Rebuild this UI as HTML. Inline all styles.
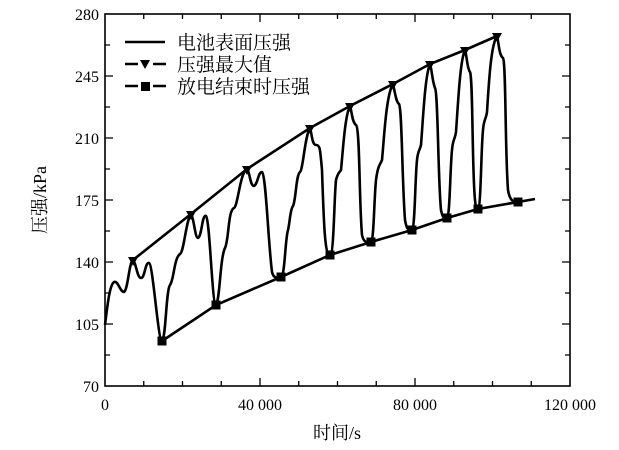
<!DOCTYPE html>
<html><head><meta charset="utf-8"><style>
body{margin:0;background:#fff;}
svg{display:block;font-family:"Liberation Serif","Noto Serif CJK SC",serif;}
</style></head><body>
<svg width="619" height="450" viewBox="0 0 619 450" xmlns="http://www.w3.org/2000/svg">
<rect x="105" y="14" width="465" height="372" fill="none" stroke="#000" stroke-width="1.6"/>
<g stroke="#000" stroke-width="1.3">
<path d="M143.75 386v-5M182.5 386v-5M221.25 386v-5M260 386v-8M298.75 386v-5M337.5 386v-5M376.25 386v-5M415 386v-8M453.75 386v-5M492.5 386v-5M531.25 386v-5
M143.75 14v5M182.5 14v5M221.25 14v5M260 14v8M298.75 14v5M337.5 14v5M376.25 14v5M415 14v8M453.75 14v5M492.5 14v5M531.25 14v5"/>
<path d="M105 355h5M105 324h8M105 293h5M105 262h8M105 231h5M105 200h8M105 169h5M105 138h8M105 107h5M105 76h8M105 45h5
M570 355h-5M570 324h-8M570 293h-5M570 262h-8M570 231h-5M570 200h-8M570 169h-5M570 138h-8M570 107h-5M570 76h-8M570 45h-5"/>
</g>
<g font-size="16" text-anchor="end">
<text x="99" y="392">70</text><text x="99" y="330">105</text><text x="99" y="268">140</text><text x="99" y="206">175</text><text x="99" y="144">210</text><text x="99" y="82">245</text><text x="99" y="20">280</text>
</g>
<g font-size="16" text-anchor="middle">
<text x="105" y="410">0</text><text x="260" y="410">40 000</text><text x="415" y="410">80 000</text><text x="570" y="410">120 000</text>
</g>
<text x="337" y="439" font-size="18" text-anchor="middle" font-family="'Liberation Serif','Noto Serif CJK SC',serif">时间/s</text>
<text transform="translate(46,200) rotate(-90)" font-size="18" text-anchor="middle" font-family="'Liberation Serif','Noto Serif CJK SC',serif">压强/kPa</text>
<polyline fill="none" stroke="#000" stroke-width="2.6" points="133,260 191,214 247,169 310,128 350,106 393,84 430,64 465,50 497,36"/>
<polyline fill="none" stroke="#000" stroke-width="2.6" points="162,341 216,305 281,277 330,255 371,242 412,230 447,218 478,209 518,202 535,199"/>
<path fill="none" stroke="#000" stroke-width="2.6" stroke-linejoin="round" d="M105,325 C108,300 110,285 114,282 C118,280 120,292 124,292 C128,290 129,262 133,260 C136,262 137,278 141,278 C145,278 145,262 149,263 C153,264 158,341 162,341 C166,338 166,290 170,285 C174,280 174,258 180,254 C184,252 186,220 191,214 C194,218 195,238 198,238 C202,236 202,214 206,216 C210,220 212,305 216,305 C220,300 220,258 225,248 C229,240 228,210 234,208 C238,206 240,172 247,169 C250,172 250,186 254,186 C258,184 258,172 262,172 C266,175 268,240 272,272 C274,280 278,277 281,277 C285,276 285,240 288,230 C290,222 290,210 293,206 C296,200 296,175 300,172 C303,170 305,135 310,128 C312,134 312,145 316,145 C320,145 320,148 322,170 C324,230 325,255 330,255 C334,255 334,200 336,180 C338,172 340,172 341,170 C343,150 345,115 350,106 C352,112 352,122 356,125 C360,128 359,200 362,235 C364,244 368,242 371,242 C374,240 374,200 376,180 C378,165 380,165 382,160 C384,140 386,95 393,84 C395,92 396,102 399,104 C402,108 402,180 405,220 C407,232 410,230 412,230 C415,228 415,180 417,160 C418,150 420,150 421,145 C423,120 425,75 430,64 C432,70 432,80 435,88 C438,92 438,180 441,210 C443,220 445,218 447,218 C450,216 450,170 452,150 C453,138 455,140 456,132 C458,105 460,60 465,50 C467,56 467,68 470,72 C473,78 472,170 475,200 C476,210 477,209 478,209 C481,208 481,150 483,130 C484,118 486,120 487,112 C489,80 491,45 497,36 C499,44 499,55 503,58 C506,62 505,150 508,190 C510,202 514,202 518,202"/>
<g fill="#000">
<path d="M128,257h10l-5,9z M186,211h10l-5,9z M242,166h10l-5,9z M305,125h10l-5,9z M345,103h10l-5,9z M388,81h10l-5,9z M425,61h10l-5,9z M460,47h10l-5,9z M492,33h10l-5,9z"/>
<rect x="157.5" y="336.5" width="9" height="9"/><rect x="211.5" y="300.5" width="9" height="9"/><rect x="276.5" y="272.5" width="9" height="9"/><rect x="325.5" y="250.5" width="9" height="9"/><rect x="366.5" y="237.5" width="9" height="9"/><rect x="407.5" y="225.5" width="9" height="9"/><rect x="442.5" y="213.5" width="9" height="9"/><rect x="473.5" y="204.5" width="9" height="9"/><rect x="513.5" y="197.5" width="9" height="9"/>
</g>
<g stroke="#000" stroke-width="2.6">
<path d="M125,42h40"/>
<path d="M125,64h13M153,64h13"/>
<path d="M125,86h13M153,86h13"/>
</g>
<path d="M140,60h10l-5,9z" fill="#000"/>
<rect x="141" y="82" width="9" height="9" fill="#000"/>
<g font-size="19" font-family="'Noto Serif CJK SC','Noto Sans CJK SC',serif">
<text x="177" y="49">电池表面压强</text>
<text x="177" y="71">压强最大值</text>
<text x="177" y="93">放电结束时压强</text>
</g>
</svg>
</body></html>
